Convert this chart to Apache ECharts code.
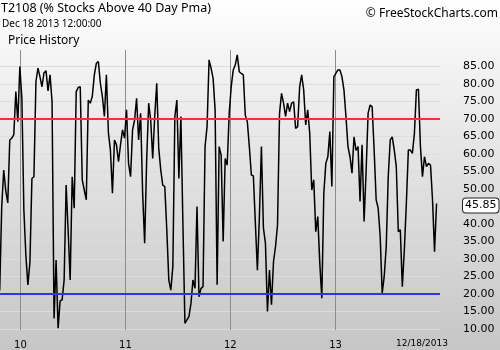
<!DOCTYPE html>
<html>
<head>
<meta charset="utf-8">
<script src="https://cdn.jsdelivr.net/npm/echarts@6/dist/echarts.min.js"></script>
<style>
  html, body { margin: 0; padding: 0; }
  #chart {
    width: 500px; height: 350px;
    background: linear-gradient(to bottom, #ffffff 0%, #f4f4f4 16%, #c6c6c6 100%);
  }
</style>
</head>
<body>
<div id="chart"></div>
<script>
// Weekly T2108 readings, first week Wed 21 Oct 2009, last week Wed 18 Dec 2013
const firstWeek = [2009, 9, 21];
const t2108 = [
  21, 45, 55.4, 49.5, 46, 64, 64.5, 65.5, 77.8, 69.2,
  85, 76, 44, 31, 22.6, 29, 53, 53.5, 80.7, 84.5,
  82, 79.2, 83.2, 83.8, 78, 82.6, 75, 13, 29.7, 10.2,
  18, 18.3, 24, 51.1, 38, 24, 53.5, 44.5, 77.8, 79,
  79.2, 52.6, 49.7, 46.9, 75.4, 74.5, 76.5, 82.6, 85.9, 86.4,
  80.2, 76.4, 70.7, 82.6, 66, 61, 48.8, 64, 62.6, 57.8,
  62.6, 66.9, 64.5, 72.6, 57.3, 53.5, 66.9, 69.7, 75.9, 64,
  71.6, 48.8, 34.5, 58.3, 74.5, 69.7, 58.7, 70.7, 80.2, 61.6,
  55.4, 51.1, 50.7, 38.3, 24, 21.1, 27.8, 70.7, 75.4, 53,
  70.7, 40.2, 11.6, 12.6, 13.5, 17.3, 24, 21.6, 45, 19.2,
  21.6, 22.1, 62.1, 67.8, 86.9, 84.5, 81.6, 72.6, 22.6, 62.1,
  59.7, 35, 58.7, 56.8, 71.6, 79.2, 84, 85.4, 88.3, 83.5,
  83, 82.6, 71.1, 69.2, 62.1, 54, 53.7, 40.2, 26.8, 42.1,
  62.1, 38.8, 34.5, 15, 26.8, 16.9, 29.2, 33.5, 39.7, 71.6,
  77.3, 74.5, 70.7, 74.5, 72.1, 74.5, 74.9, 67.3, 67.8, 79.2,
  82.6, 78.3, 68.3, 72.6, 65.9, 49.7, 52.6, 37.8, 42.1, 28.8,
  18.8, 48.8, 57.3, 59.2, 66.4, 50.7, 82.1, 83, 84, 84,
  82.1, 78.3, 70.7, 62.1, 59.2, 54.5, 64.9, 61, 62.1, 46.4,
  62.6, 40.7, 55, 71.6, 74, 73.5, 61.1, 46.9, 44.5, 36.4,
  20.2, 25, 33.5, 53.5, 64, 64.9, 61.1, 56.4, 37.8, 38.3,
  22.1, 32.6, 45.9, 61.1, 61.1, 60.2, 65.9, 78.3, 78.5, 62.1,
  53.5, 59.2, 56.4, 57.3, 56.8, 46.9, 32.1, 45.85
];
const yTicks = [10, 15, 20, 25, 30, 35, 40, 45, 50, 55, 60, 65, 70, 75, 80, 85];
const yearStarts = [2010, 2011, 2012, 2013];
const upperBand = 70;
const lowerBand = 20;
const lastDateText = '12/18/2013';

const dayMs = (y, m, d) => new Date(y, m, d).getTime();
const seriesData = t2108.map((v, i) => [
  dayMs(firstWeek[0], firstWeek[1], firstWeek[2] + 7 * i), v
]);
const yearTickValues = yearStarts.map(y => dayMs(y, 0, 1));
const lastValue = t2108[t2108.length - 1];

const chart = echarts.init(document.getElementById('chart'), null, { renderer: 'canvas' });
chart.setOption({
  animation: false,
  backgroundColor: 'transparent',
  grid: { left: 0, right: 60, top: 50, bottom: 20, containLabel: false, outerBoundsMode: 'none' },
  graphic: [
    { type: 'text', left: 1, top: 2, style: { text: 'T2108 (% Stocks Above 40 Day Pma)', fontFamily: 'Noto Sans', fontSize: 12.5, fill: '#000' } },
    { type: 'text', left: 2, top: 19, style: { text: 'Dec 18 2013 12:00:00', fontFamily: 'Noto Sans', fontSize: 10, fill: '#000' } },
    { type: 'text', left: 8, top: 35, style: { text: 'Price History', fontFamily: 'Noto Sans', fontSize: 12, fill: '#000' } },
    { type: 'text', right: 2, top: 8, style: { text: '\u00A9 FreeStockCharts.com', fontFamily: 'Noto Sans', fontSize: 12, fill: '#000' } },
    { type: 'text', x: 422, y: 344, style: { text: lastDateText, fontFamily: 'DejaVu Sans', fontSize: 9, fill: '#000', align: 'center', verticalAlign: 'middle' } }
  ],
  xAxis: {
    type: 'value',
    min: dayMs(2009, 9, 22),
    max: dayMs(2013, 11, 30),
    axisLine: { show: false },
    axisTick: { show: false, customValues: yearTickValues },
    splitLine: { show: true, lineStyle: { color: '#8c8c8c', width: 1 } },
    axisLabel: {
      customValues: yearTickValues,
      formatter: v => String(new Date(v).getFullYear()).slice(2),
      fontFamily: 'DejaVu Sans', fontSize: 10, color: '#000', margin: 10
    }
  },
  yAxis: {
    type: 'value',
    position: 'right',
    min: 9.7,
    max: 89.7,
    axisLine: { show: false },
    axisTick: { show: false, customValues: yTicks },
    splitLine: { show: true, lineStyle: { color: '#dcdcdc', width: 1 } },
    axisLabel: {
      customValues: yTicks,
      formatter: v => Number(v).toFixed(2),
      fontFamily: 'DejaVu Sans', fontSize: 11, color: '#000', margin: 23
    }
  },
  series: [{
    type: 'line',
    data: seriesData,
    showSymbol: false,
    symbol: 'none',
    lineStyle: { color: '#000', width: 1.5 },
    markLine: {
      silent: true,
      symbol: ['none', 'none'],
      data: [
        { yAxis: upperBand, lineStyle: { color: '#f03232', width: 2, type: 'solid' }, label: { show: false } },
        { yAxis: lowerBand, lineStyle: { color: '#3232f5', width: 2, type: 'solid' }, label: { show: false } },
        {
          yAxis: lastValue,
          lineStyle: { color: 'rgba(0,0,0,0)', width: 1, type: 'solid' },
          label: {
            show: true, position: 'end', distance: 23,
            formatter: p => Number(p.value).toFixed(2),
            backgroundColor: '#fff', borderColor: '#222', borderWidth: 1, borderRadius: 3,
            padding: [2, 2, 1, 2], offset: [0, 2],
            fontFamily: 'DejaVu Sans', fontSize: 11, color: '#000'
          }
        }
      ]
    }
  }]
});
</script>
</body>
</html>
